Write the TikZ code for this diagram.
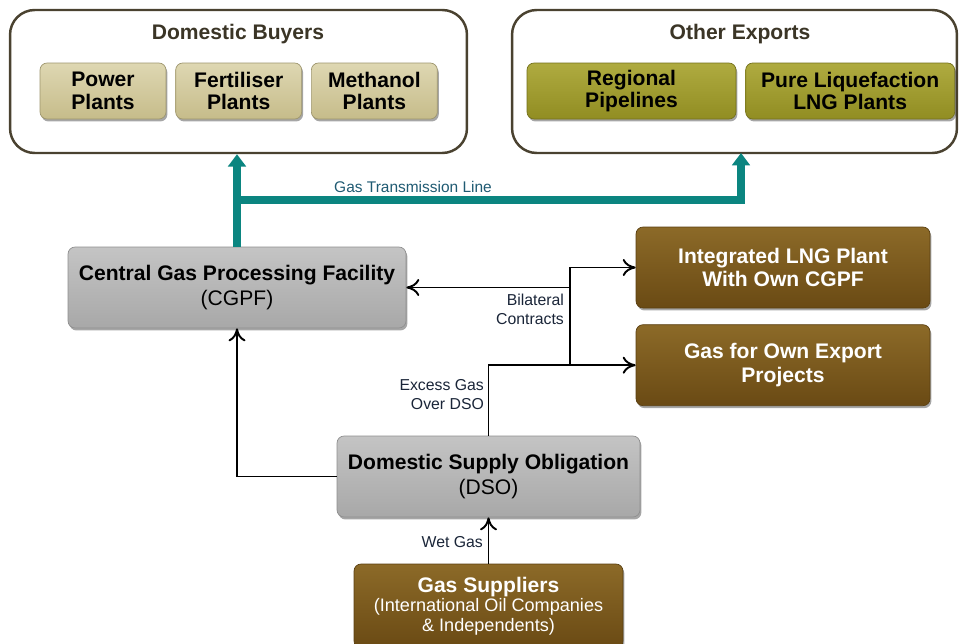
\documentclass[tikz,border=0pt]{standalone}
\usepackage{fontspec}
\setmainfont{Liberation Sans}
\usepackage{tikz}
\usetikzlibrary{positioning}
\usetikzlibrary{arrows.meta, shadows}
\definecolor{groupLine}{HTML}{4A4230}
\definecolor{groupText}{HTML}{3B3526}
\definecolor{tanTop}{HTML}{DED7B2}
\definecolor{tanBot}{HTML}{C6BC8A}
\definecolor{oliveTop}{HTML}{AFAB40}
\definecolor{oliveBot}{HTML}{918D22}
\definecolor{greyTop}{HTML}{C4C4C4}
\definecolor{greyBot}{HTML}{A8A8A8}
\definecolor{brownTop}{HTML}{8C6A28}
\definecolor{brownBot}{HTML}{6A4A14}
\definecolor{pipeTeal}{HTML}{0B8580}
\definecolor{pipeText}{HTML}{1F5A72}
\definecolor{noteText}{HTML}{1A2538}
\tikzstyle{arrow} = [line width=1.1pt,-{To[length=2.6mm,width=3.4mm]}]
\tikzstyle{pipe} = [line width=4.6pt,pipeTeal,-{Triangle[width=10pt,length=7pt]}]
\tikzset{
  group/.style={draw=groupLine,line width=1.4pt,fill=white,rounded corners=14pt},
  groupTitle/.style={text=groupText,font=\bfseries\fontsize{12}{14}\selectfont},
  block/.style={rounded corners=4pt,align=center,inner sep=2pt,
    drop shadow={shadow xshift=0.8pt,shadow yshift=-1.4pt,opacity=0.35,fill=black}},
  tanBox/.style={block,top color=tanTop,bottom color=tanBot,draw=tanBot!80!black,thin,
    minimum width=2.52cm,minimum height=1.12cm,font=\bfseries\fontsize{12}{12.8}\selectfont},
  oliveBox/.style={block,top color=oliveTop,bottom color=oliveBot,draw=oliveBot!80!black,thin,
    minimum width=4.18cm,minimum height=1.12cm,font=\bfseries\fontsize{12}{12.8}\selectfont},
  greyBox/.style={block,top color=greyTop,bottom color=greyBot,draw=greyBot!85!black,thin,
    minimum height=1.62cm,font=\fontsize{12}{13.5}\selectfont},
  brownBox/.style={block,top color=brownTop,bottom color=brownBot,draw=brownBot!85!black,thin,
    text=white,minimum height=1.62cm,font=\bfseries\fontsize{12}{13.5}\selectfont},
  note/.style={text=noteText,align=right,inner sep=1pt,font=\fontsize{9}{11}\selectfont}
}
\begin{document}
\begin{tikzpicture}[x=0.02cm,y=-0.02cm]
  \useasboundingbox (0,0) rectangle (959,643);

  %Groups
  \node [group,minimum width=9.14cm,minimum height=2.86cm] (domBuyers) at (238.5,81.5) {};
  \node [group,minimum width=8.9cm,minimum height=2.86cm] (otherExports) at (734.5,81.5) {};
  \node [groupTitle] (domBuyersTitle) at (238,34) {Domestic Buyers};
  \node [groupTitle] (otherExportsTitle) at (740,34) {Other Exports};

  %Buyers
  \node [tanBox] (powerPlants) at (103,91) {Power\\Plants};
  \node [tanBox, right=0.18cm of powerPlants] (fertiliserPlants) {Fertiliser\\Plants};
  \node [tanBox, right=0.18cm of fertiliserPlants] (methanolPlants) {Methanol\\Plants};
  \node [oliveBox] (regionalPipes) at (631.5,91) {Regional\\Pipelines};
  \node [oliveBox, right=0.18cm of regionalPipes] (pureLng) {Pure Liquefaction\\LNG Plants};

  %Processing and supply
  \node [greyBox,minimum width=6.76cm] (cgpf) at (237,287.5)
    {\textbf{Central Gas Processing Facility}\\[1pt](CGPF)};
  \node [brownBox,minimum width=5.88cm] (integratedLng) at (783,267.5) {Integrated LNG Plant\\With Own CGPF};
  \node [brownBox,minimum width=5.88cm, below=0.32cm of integratedLng] (ownExport) {Gas for Own Export\\Projects};
  \node [greyBox,minimum width=6.06cm] (dso) at (488.5,476.5)
    {\textbf{Domestic Supply Obligation}\\[1pt](DSO)};
  \node [brownBox,minimum width=5.38cm,minimum height=1.68cm,font=\fontsize{10.3}{11.2}\selectfont] (gasSuppliers) at (488.5,606)
    {{\bfseries\fontsize{12}{13}\selectfont Gas Suppliers}\\(International Oil Companies\\\& Independents)};

  \coordinate (transJoin) at (238,200);
  \coordinate (exportIn) at (741,153);
  \coordinate (contractJoin) at (570,364.5);

  %Lines
  \draw[pipe] (cgpf.north) -- (cgpf.north |- domBuyers.south);
  \draw[pipe] (transJoin) -| (exportIn);
  \node [text=pipeText,font=\fontsize{8.8}{10}\selectfont] (transLabel) at (413,187) {Gas Transmission Line};

  \draw[arrow] (dso.north) |- (ownExport.west);
  \draw[arrow] (contractJoin) |- (integratedLng.west);
  \draw[arrow] (contractJoin |- cgpf.east) -- (cgpf.east);
  \draw[arrow] (dso.west) -| (cgpf.south);
  \draw[arrow] (gasSuppliers.north) -- (dso.south);

  \node [note,anchor=north east] (bilateralLabel) at (566,292) {Bilateral\\Contracts};
  \node [note,anchor=north east] (excessLabel) at (486,377) {Excess Gas\\Over DSO};
  \node [note,anchor=east] (wetGasLabel) at (485,542) {Wet Gas};
\end{tikzpicture}
\end{document}
